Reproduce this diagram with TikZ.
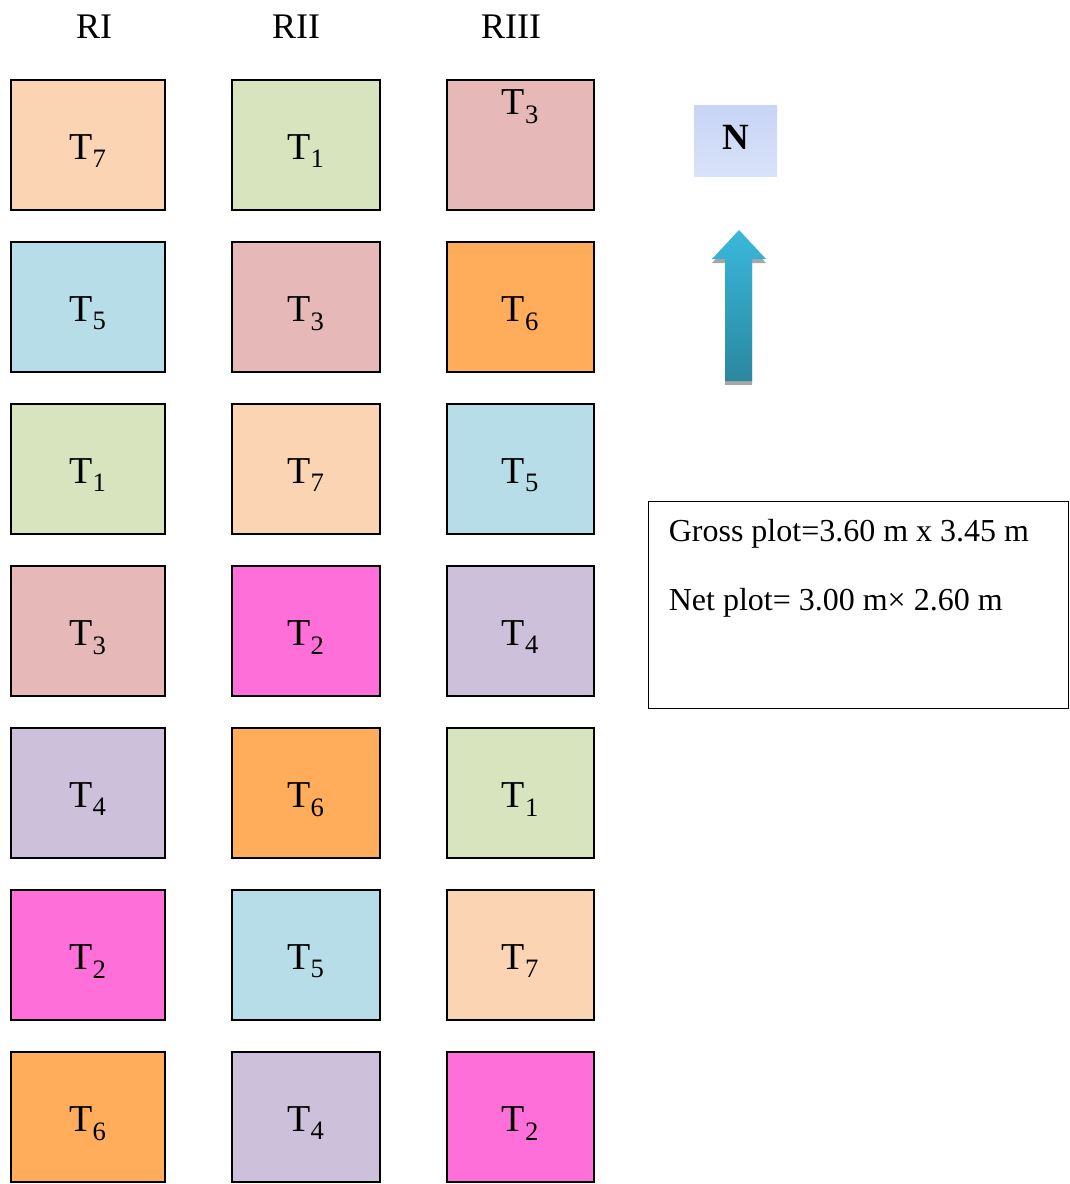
\documentclass[tikz,border=0pt]{standalone}
\usepackage{fontspec}
\setmainfont{Liberation Serif}

\definecolor{tone}{HTML}{D7E4BD}
\definecolor{ttwo}{HTML}{FF6FD9}
\definecolor{tthree}{HTML}{E6B8B7}
\definecolor{tfour}{HTML}{CCC0DA}
\definecolor{tfive}{HTML}{B7DDE8}
\definecolor{tsix}{HTML}{FFAD5B}
\definecolor{tseven}{HTML}{FBD4B4}
\definecolor{arrowtop}{HTML}{3AB8DC}
\definecolor{arrowbot}{HTML}{2A889E}

\newcommand{\trt}[1]{\raisebox{-14pt}[0pt][0pt]{T\textsubscript{#1}}}

\begin{document}
\begin{tikzpicture}[x=1pt,y=-1pt]
\tikzset{plot/.style={draw,line width=2pt,minimum height=130pt,inner sep=0pt,
  font=\fontsize{38}{40}\selectfont}}
\tikzset{rep/.style={font=\fontsize{36}{38}\selectfont}}
\tikzset{info/.style={font=\fontsize{32}{34}\selectfont,anchor=west,inner sep=0pt}}
\useasboundingbox (0,0) rectangle (1069,1184);

% replications
\node[rep] (r1) at (94,27) {RI};
\node[rep] (r2) at (296,27) {RII};
\node[rep] (r3) at (511,27) {RIII};

% RI
\foreach \t/\col [count=\r] in {7/tseven,5/tfive,1/tone,3/tthree,4/tfour,2/ttwo,6/tsix}
  \node[plot,minimum width=154pt,fill=\col] (p-1-\r) at (88,{145+162*(\r-1)}) {\trt{\t}};
% RII
\foreach \t/\col [count=\r] in {1/tone,3/tthree,7/tseven,2/ttwo,6/tsix,5/tfive,4/tfour}
  \node[plot,minimum width=148pt,fill=\col] (p-2-\r) at (306,{145+162*(\r-1)}) {\trt{\t}};
% RIII
\node[plot,minimum width=147pt,fill=tthree] (p-3-1) at (520.5,145) {};
\node[font=\fontsize{38}{40}\selectfont,inner sep=0pt] (p-3-1-lab) at ([yshift=45pt]p-3-1.center) {\trt{3}};
\foreach \t/\col [count=\r from 2] in {6/tsix,5/tfive,4/tfour,1/tone,7/tseven,2/ttwo}
  \node[plot,minimum width=147pt,fill=\col] (p-3-\r) at (520.5,{145+162*(\r-1)}) {\trt{\t}};

% north sign
\shade[top color={rgb,255:red,200;green,212;blue,246},bottom color={rgb,255:red,216;green,226;blue,248}]
  (694,105) rectangle (777,176);
\node[font=\bfseries\fontsize{37}{39}\selectfont] (north) at (735.5,137) {N};
\fill[gray!70] (739,234) -- (766,263) -- (752,263) -- (752,385) -- (725,385) -- (725,263) -- (712,263) -- cycle;
\shade[top color=arrowtop,bottom color=arrowbot]
  (739,230) -- (766,259) -- (752,259) -- (752,381) -- (725,381) -- (725,259) -- (712,259) -- cycle;

% plot sizes
\node[draw,line width=1.8pt,minimum width=420pt,minimum height=207pt,inner sep=0pt] (box) at (858.5,605) {};
\node[info] (gross) at ([xshift=21pt,yshift=-33pt]box.north west) {Gross plot=3.60 m x 3.45 m};
\node[info] (net) at ([xshift=21pt,yshift=-102pt]box.north west) {Net plot= 3.00 m\texttimes{} 2.60 m};
\end{tikzpicture}
\end{document}
